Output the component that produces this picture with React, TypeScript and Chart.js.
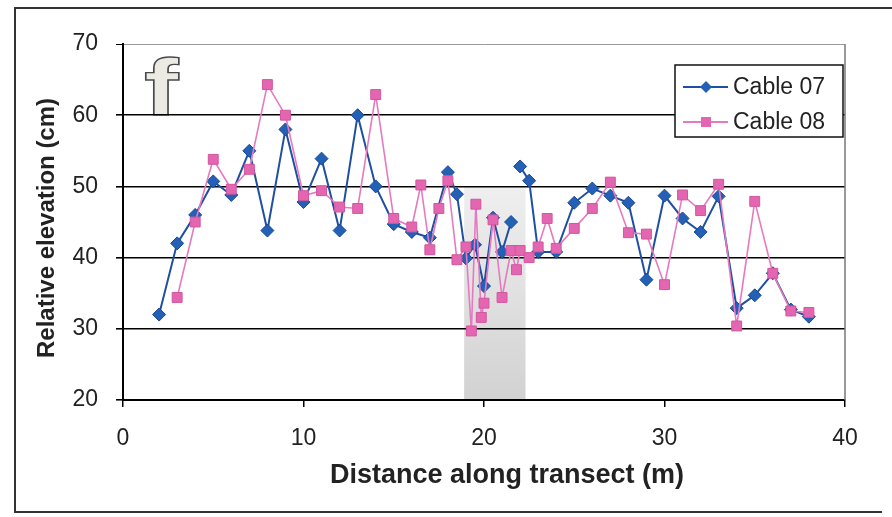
import React, { useEffect, useRef } from "react";
import { Chart, registerables } from "chart.js";

Chart.register(...registerables);

// ---- data ----
const seriesNames = ["Cable 07", "Cable 08"];

const cable07X = [2, 3, 4, 5, 6, 7, 8, 9, 10, 11, 12, 13, 14, 15, 16, 17, 18, 18.5, 19, 19.5, 20, 20.5, 21, 21.5, 21.75, 22, 22.5, 23, 24, 25, 26, 27, 28, 29, 30, 31, 32, 33, 34, 35, 36, 37, 38];
const cable07Y: (number | null)[] = [32, 42, 46, 50.7, 48.8, 55, 43.8, 58, 47.8, 53.9, 43.8, 60, 50, 44.7, 43.6, 42.8, 52, 48.9, 39.9, 41.8, 36, 45.6, 40.8, 45, null, 52.8, 50.8, 40.8, 40.8, 47.7, 49.7, 48.7, 47.7, 36.9, 48.7, 45.5, 43.6, 48.6, 32.9, 34.7, 37.8, 32.7, 31.7];

const cable08X = [3, 4, 5, 6, 7, 8, 9, 10, 11, 12, 13, 14, 15, 16, 16.5, 17, 17.5, 18, 18.5, 19, 19.3, 19.55, 19.85, 20, 20.5, 21, 21.5, 21.8, 22, 22.5, 23, 23.5, 24, 25, 26, 27, 28, 29, 30, 31, 32, 33, 34, 35, 36, 37, 38];
const cable08Y = [34.4, 45, 53.8, 49.6, 52.4, 64.3, 60, 48.7, 49.4, 47.1, 46.9, 62.9, 45.5, 44.3, 50.2, 41.1, 46.9, 50.8, 39.7, 41.5, 29.7, 47.5, 31.6, 33.6, 45.3, 34.4, 41, 38.3, 41, 40, 41.5, 45.5, 41.3, 44.1, 46.9, 50.6, 43.5, 43.3, 36.2, 48.8, 46.6, 50.3, 30.4, 47.9, 37.8, 32.5, 32.3];

const xTicks = [0, 10, 20, 30, 40];
const yTicks = [20, 30, 40, 50, 60, 70];
const shadeX = [18.9, 22.3];
const shadeY = [20, 50];
const panelLabel = "f";
const xTitle = "Distance along transect (m)";
const yTitle = "Relative elevation (cm)";

const FONT = '"Liberation Sans", Arial, sans-serif';
const BLUE_LINE = "#1f4fa0";
const BLUE_FILL = "#2460b6";
const PINK_LINE = "#e67abf";
const PINK_FILL = "#e466b1";

const decor = {
  id: "decor",
  beforeDraw(chart: any) {
    const { ctx, chartArea, scales } = chart;
    const x = scales.x;
    const y = scales.y;
    ctx.save();
    ctx.fillStyle = "#ffffff";
    ctx.fillRect(0, 0, chart.width, chart.height);
    // outer frame
    ctx.strokeStyle = "#333";
    ctx.lineWidth = 2;
    ctx.beginPath();
    ctx.moveTo(892, 8);
    ctx.lineTo(15, 8);
    ctx.lineTo(15, 512);
    ctx.lineTo(882, 512);
    ctx.stroke();
    // shaded band
    const x0 = x.getPixelForValue(shadeX[0]);
    const x1 = x.getPixelForValue(shadeX[1]);
    const y0 = y.getPixelForValue(shadeY[1]);
    const y1 = y.getPixelForValue(shadeY[0]);
    const g = ctx.createLinearGradient(0, y0, 0, y1);
    g.addColorStop(0, "#efefef");
    g.addColorStop(1, "#d2d2d2");
    ctx.fillStyle = g;
    ctx.fillRect(x0, y0, x1 - x0, y1 - y0);
    // panel letter
    const fy = y.getPixelForValue(60);
    ctx.translate(chartArea.left + 21, fy);
    ctx.scale(1.3, 1);
    ctx.font = "bold 80px " + FONT;
    ctx.textBaseline = "alphabetic";
    ctx.textAlign = "left";
    ctx.fillStyle = "#ebebe3";
    ctx.strokeStyle = "#4a4a4a";
    ctx.lineWidth = 1.3;
    ctx.fillText(panelLabel, 0, 0);
    ctx.strokeText(panelLabel, 0, 0);
    ctx.restore();
  },
  afterDraw(chart: any) {
    const { ctx, chartArea } = chart;
    ctx.save();
    // right border of plot
    ctx.strokeStyle = "#777";
    ctx.lineWidth = 1.5;
    ctx.beginPath();
    ctx.moveTo(chartArea.right, chartArea.top);
    ctx.lineTo(chartArea.right, chartArea.bottom);
    ctx.stroke();
    // axis titles
    ctx.fillStyle = "#222";
    ctx.textAlign = "center";
    ctx.textBaseline = "middle";
    ctx.font = "bold 27px " + FONT;
    ctx.fillText(xTitle, 507, 476);
    ctx.save();
    ctx.translate(47, 228);
    ctx.rotate(-Math.PI / 2);
    ctx.font = "bold 24px " + FONT;
    ctx.fillText(yTitle, 0, 0);
    ctx.restore();
    // legend
    const bx = 675, by = 65, bw = 168, bh = 72;
    ctx.fillStyle = "#fff";
    ctx.fillRect(bx, by, bw, bh);
    ctx.strokeStyle = "#111";
    ctx.lineWidth = 1.5;
    ctx.strokeRect(bx, by, bw, bh);
    const rows = [
      { y: by + 22, line: BLUE_LINE, fill: BLUE_FILL, diamond: true },
      { y: by + 57, line: PINK_LINE, fill: PINK_FILL, diamond: false },
    ];
    rows.forEach((r, i) => {
      ctx.strokeStyle = r.line;
      ctx.lineWidth = 2;
      ctx.beginPath();
      ctx.moveTo(bx + 8, r.y);
      ctx.lineTo(bx + 53, r.y);
      ctx.stroke();
      ctx.fillStyle = r.fill;
      const cx = bx + 31;
      ctx.beginPath();
      if (r.diamond) {
        ctx.moveTo(cx, r.y - 6);
        ctx.lineTo(cx + 6, r.y);
        ctx.lineTo(cx, r.y + 6);
        ctx.lineTo(cx - 6, r.y);
        ctx.closePath();
      } else {
        ctx.rect(cx - 5, r.y - 5, 10, 10);
      }
      ctx.fill();
      ctx.fillStyle = "#222";
      ctx.font = "23px " + FONT;
      ctx.textBaseline = "middle";
      ctx.textAlign = "left";
      ctx.fillText(seriesNames[i], bx + 58, r.y + 1);
    });
    ctx.restore();
  },
};

export default function App() {
  const ref = useRef<HTMLCanvasElement | null>(null);
  useEffect(() => {
    document.body.style.margin = "0";
    const canvas = ref.current;
    if (!canvas) return;
    const chart = new Chart(canvas, {
      type: "line",
      data: {
        datasets: [
          {
            label: seriesNames[0],
            data: cable07X.map((v, i) => ({ x: v, y: cable07Y[i] })),
            borderColor: BLUE_LINE,
            backgroundColor: BLUE_FILL,
            pointBackgroundColor: BLUE_FILL,
            pointBorderColor: "#1a4894",
            pointBorderWidth: 1,
            pointStyle: "rectRot",
            pointRadius: 6.5,
            borderWidth: 2,
            spanGaps: false,
            tension: 0,
            order: 1,
          },
          {
            label: seriesNames[1],
            data: cable08X.map((v, i) => ({ x: v, y: cable08Y[i] })),
            borderColor: PINK_LINE,
            backgroundColor: PINK_FILL,
            pointBackgroundColor: PINK_FILL,
            pointBorderColor: "#d2559f",
            pointBorderWidth: 1,
            pointStyle: "rect",
            pointRadius: 7,
            borderWidth: 1.6,
            tension: 0,
            order: 0,
          },
        ],
      },
      options: {
        animation: false,
        responsive: false,
        devicePixelRatio: 1,
        layout: { padding: { top: 44, right: 47, left: 0, bottom: 0 } },
        plugins: { legend: { display: false }, tooltip: { enabled: false } },
        scales: {
          x: {
            type: "linear",
            min: xTicks[0],
            max: xTicks[xTicks.length - 1],
            afterBuildTicks: (s: any) => {
              s.ticks = xTicks.map((v) => ({ value: v }));
            },
            afterFit: (s: any) => {
              s.height = 117;
            },
            ticks: {
              font: { family: FONT, size: 23 },
              color: "#222",
              padding: 18,
              maxRotation: 0,
            },
            grid: {
              drawOnChartArea: false,
              tickLength: 7,
              color: "#000",
              lineWidth: 1.5,
            },
            border: { color: "#000", width: 2 },
            title: { display: false },
          },
          y: {
            type: "linear",
            min: yTicks[0],
            max: yTicks[yTicks.length - 1],
            afterBuildTicks: (s: any) => {
              s.ticks = yTicks.map((v) => ({ value: v }));
            },
            afterFit: (s: any) => {
              s.width = 123;
            },
            ticks: {
              font: { family: FONT, size: 23 },
              color: "#222",
              padding: 18,
            },
            grid: {
              color: (c: any) => (c.tick && c.tick.value === 70 ? "#999" : "#000"),
              tickColor: "#000",
              lineWidth: (c: any) => (c.tick && c.tick.value === 70 ? 1 : 1.6),
              tickLength: 7,
            },
            border: { color: "#000", width: 2 },
            title: { display: false },
          },
        },
      },
      plugins: [decor],
    } as any);
    return () => chart.destroy();
  }, []);
  return <canvas ref={ref} width={892} height={517} style={{ display: "block" }} />;
}
